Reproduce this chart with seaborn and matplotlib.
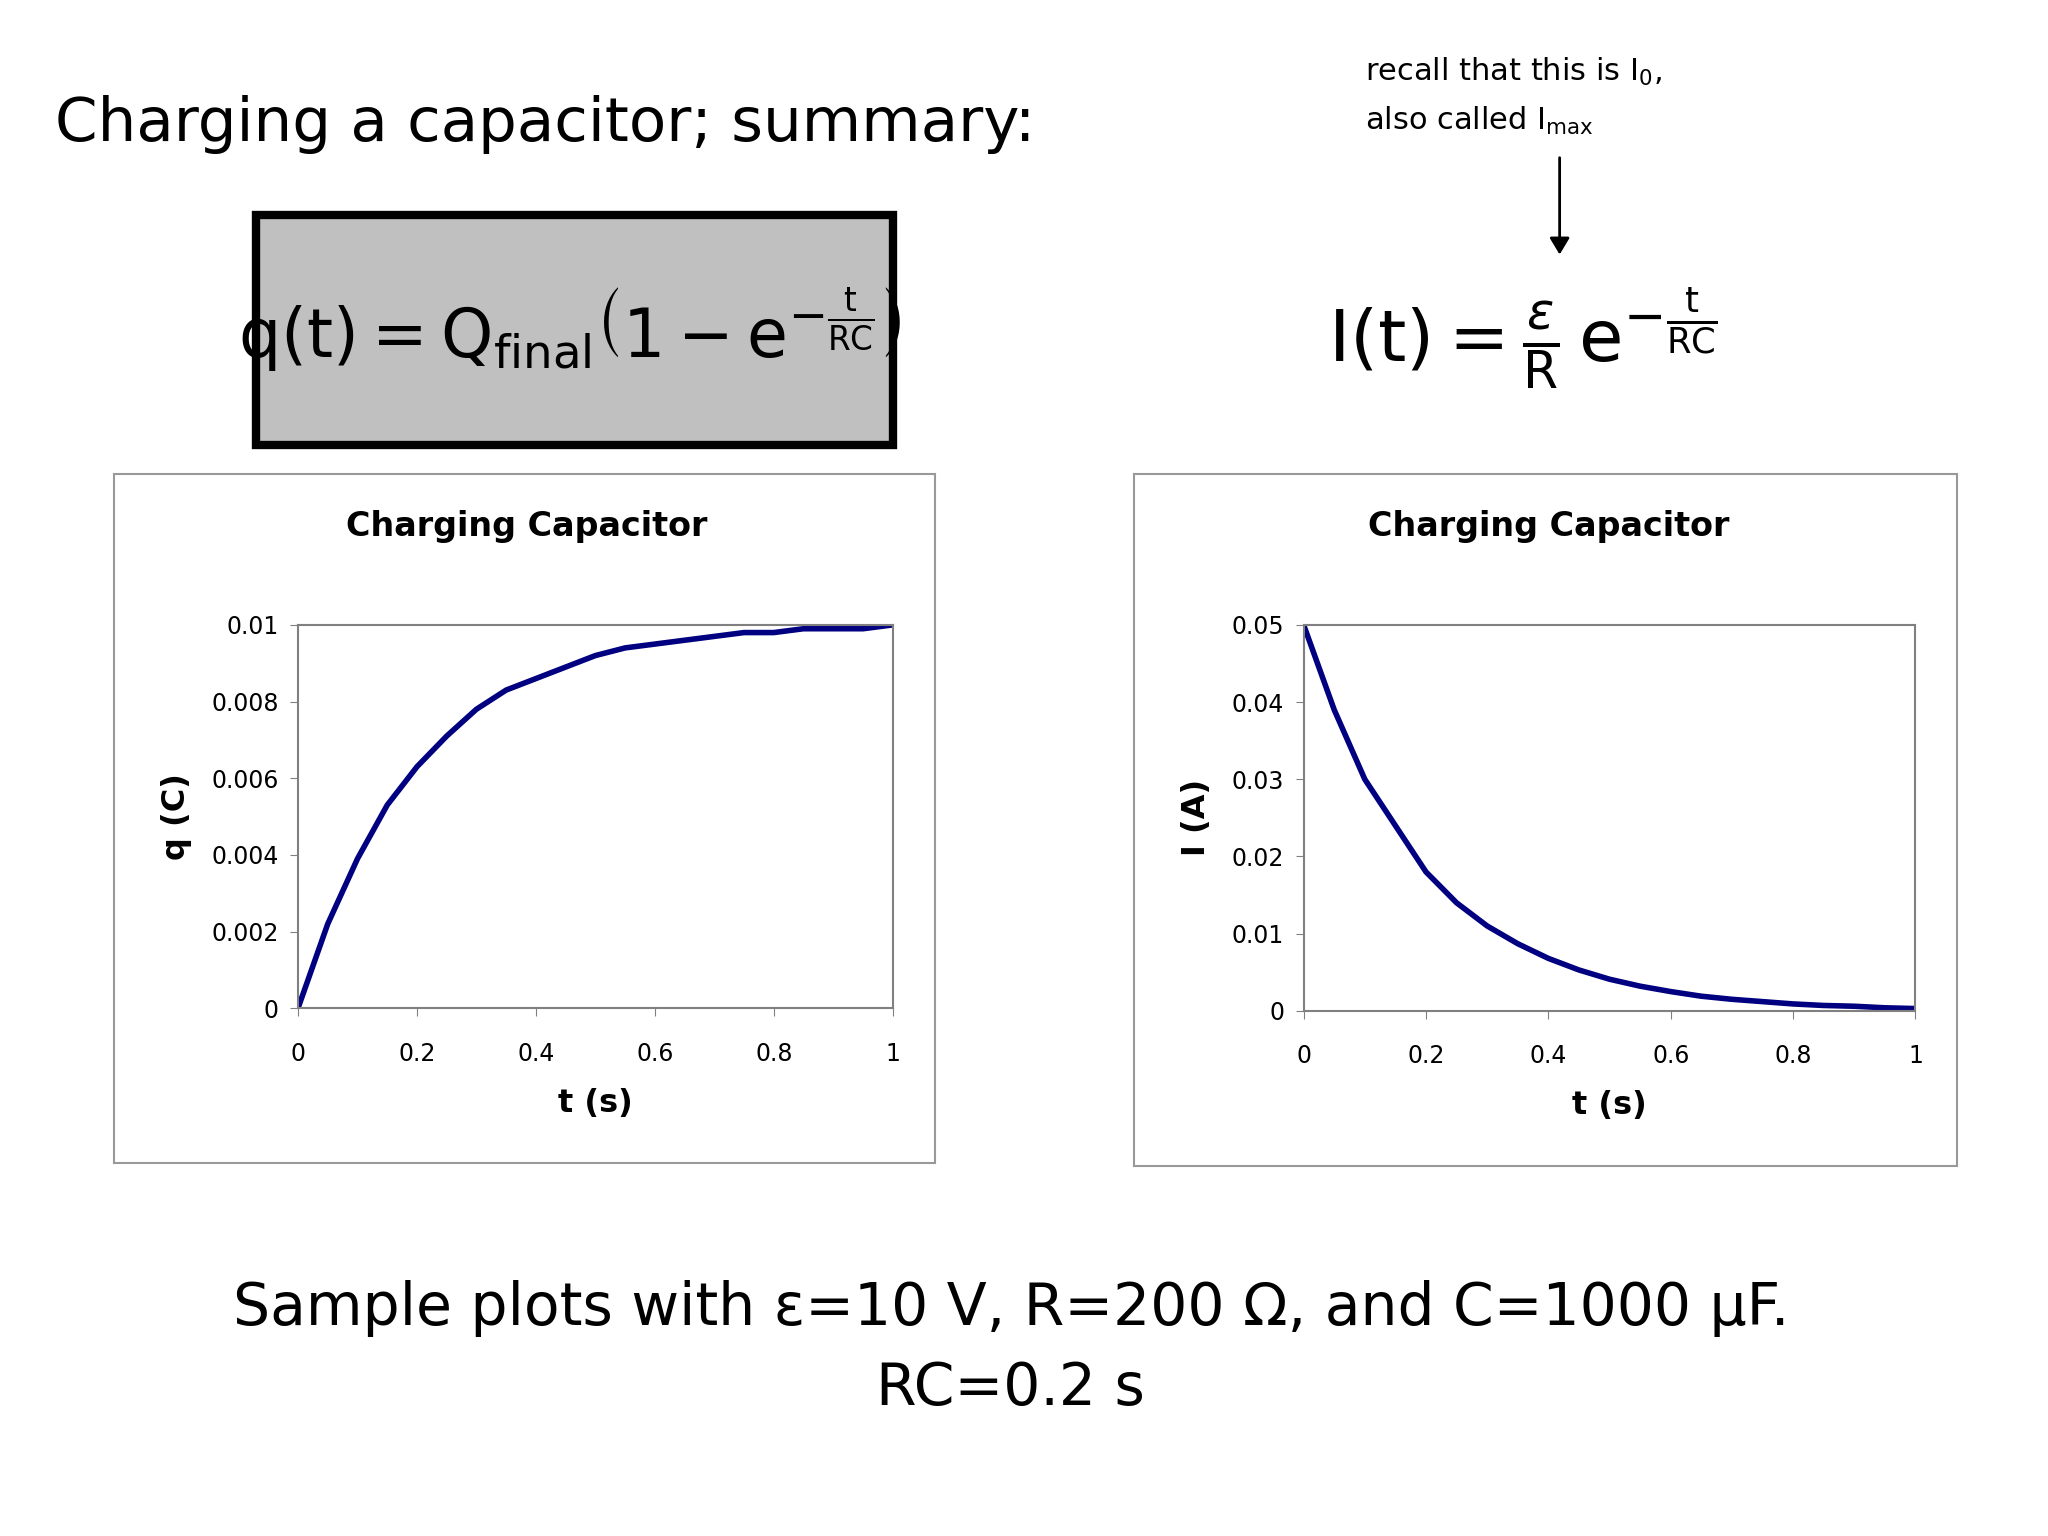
import numpy as np
import pandas as pd
import seaborn as sns
from matplotlib import pyplot as plt
from matplotlib.patches import Rectangle, FancyArrowPatch

sns.set_style("white")
plt.rcParams["font.family"] = ["DejaVu Sans"]
plt.rcParams["mathtext.fontset"] = "dejavusans"

# values
t_s = [0, 0.05, 0.1, 0.15, 0.2, 0.25, 0.3, 0.35, 0.4, 0.45, 0.5,
       0.55, 0.6, 0.65, 0.7, 0.75, 0.8, 0.85, 0.9, 0.95, 1.0]
q_c = [0, 0.0022, 0.0039, 0.0053, 0.0063, 0.0071, 0.0078, 0.0083, 0.0086, 0.0089, 0.0092,
       0.0094, 0.0095, 0.0096, 0.0097, 0.0098, 0.0098, 0.0099, 0.0099, 0.0099, 0.0100]
i_a = [0.05, 0.039, 0.030, 0.024, 0.018, 0.014, 0.011, 0.0087, 0.0068, 0.0053, 0.0041,
       0.0032, 0.0025, 0.0019, 0.0015, 0.0012, 0.0009, 0.0007, 0.0006, 0.0004, 0.0003]
q_ticks = [0, 0.002, 0.004, 0.006, 0.008, 0.01]
i_ticks = [0, 0.01, 0.02, 0.03, 0.04, 0.05]
t_ticks = [0, 0.2, 0.4, 0.6, 0.8, 1]

df = pd.DataFrame({"t": t_s, "q": q_c, "I": i_a})

W, H = 1560, 1170  # layout measured in these units
fig = plt.figure(figsize=(20.48, 15.36), dpi=100)


def fx(x):
    return x / W


def fy(y):
    return 1 - y / H


fig.text(fx(42), fy(95), "Charging a capacitor; summary:", fontsize=44, va="center", color="black")

# formula box
fig.patches.append(Rectangle((fx(195), fy(339)), fx(485), 175 / H, transform=fig.transFigure,
                             facecolor="#c0c0c0", edgecolor="black", linewidth=6, zorder=-5))
fig.text(fx(434), fy(252),
         r"$\mathrm{q}\left(\mathrm{t}\right) = \mathrm{Q}_{\mathrm{final}}"
         r"\left(1 - \mathrm{e}^{-\frac{\mathrm{t}}{\mathrm{RC}}}\right)$",
         fontsize=48, ha="center", va="center", color="black")

fig.text(fx(1160), fy(258),
         r"$\mathrm{I}\left(\mathrm{t}\right) = \frac{\varepsilon}{\mathrm{R}}\,"
         r"\mathrm{e}^{-\frac{\mathrm{t}}{\mathrm{RC}}}$",
         fontsize=52, ha="center", va="center", color="black")
fig.text(fx(1040), fy(55), r"recall that this is I$_0$,", fontsize=22, va="center", color="black")
fig.text(fx(1040), fy(92), r"also called I$_{\mathrm{max}}$", fontsize=22, va="center", color="black")
fig.patches.append(FancyArrowPatch(
    (fx(1188), fy(118)), (fx(1188), fy(196)), transform=fig.transFigure,
    arrowstyle="-|>,head_width=6,head_length=10", color="black", linewidth=2))

fig.text(fx(770), fy(997), "Sample plots with ε=10 V, R=200 Ω, and C=1000 μF.",
         fontsize=42, ha="center", va="center", color="black")
fig.text(fx(770), fy(1058), "RC=0.2 s", fontsize=42, ha="center", va="center", color="black")


def panel(box, ax_rect, ycol, yticks, ylabel, title):
    x0, y0, x1, y1 = box
    fig.patches.append(Rectangle((fx(x0), fy(y1)), fx(x1 - x0), (y1 - y0) / H,
                                 transform=fig.transFigure, facecolor="white",
                                 edgecolor="#999999", linewidth=1.5, zorder=-5))
    fig.text(fx((x0 + x1) / 2 + 2), fy(401), title, fontsize=24, fontweight="bold",
             ha="center", va="center", color="black")
    l, t, r, b = ax_rect
    ax = fig.add_axes([fx(l), fy(b), fx(r - l), (b - t) / H])
    ax.set_facecolor("none")
    sns.lineplot(data=df, x="t", y=ycol, ax=ax, color="#000080", linewidth=4)
    ax.set_xlim(0, 1)
    ax.set_ylim(0, yticks[-1])
    ax.set_xticks(t_ticks)
    ax.set_xticklabels([f"{v:g}" for v in t_ticks])
    ax.set_yticks(yticks)
    ax.set_yticklabels([f"{v:g}" for v in yticks])
    ax.tick_params(labelsize=17, length=6, direction="out", color="#808080", pad=8,
                   bottom=True, left=True, labelcolor="black")
    ax.tick_params(axis="x", pad=18)
    for s in ax.spines.values():
        s.set_color("#808080")
        s.set_linewidth(1.5)
    ax.set_xlabel("t (s)", fontsize=23, fontweight="bold", labelpad=16, color="black")
    ax.set_ylabel(ylabel, fontsize=23, fontweight="bold", labelpad=14, color="black")
    return ax


panel((87, 361, 712, 886), (227, 476, 680, 768), "q", q_ticks, "q (C)", "Charging Capacitor")
panel((864, 361, 1491, 888), (993, 476, 1459, 770), "I", i_ticks, "I (A)", "Charging Capacitor")

fig.savefig("out.png", dpi=100, facecolor="white")
